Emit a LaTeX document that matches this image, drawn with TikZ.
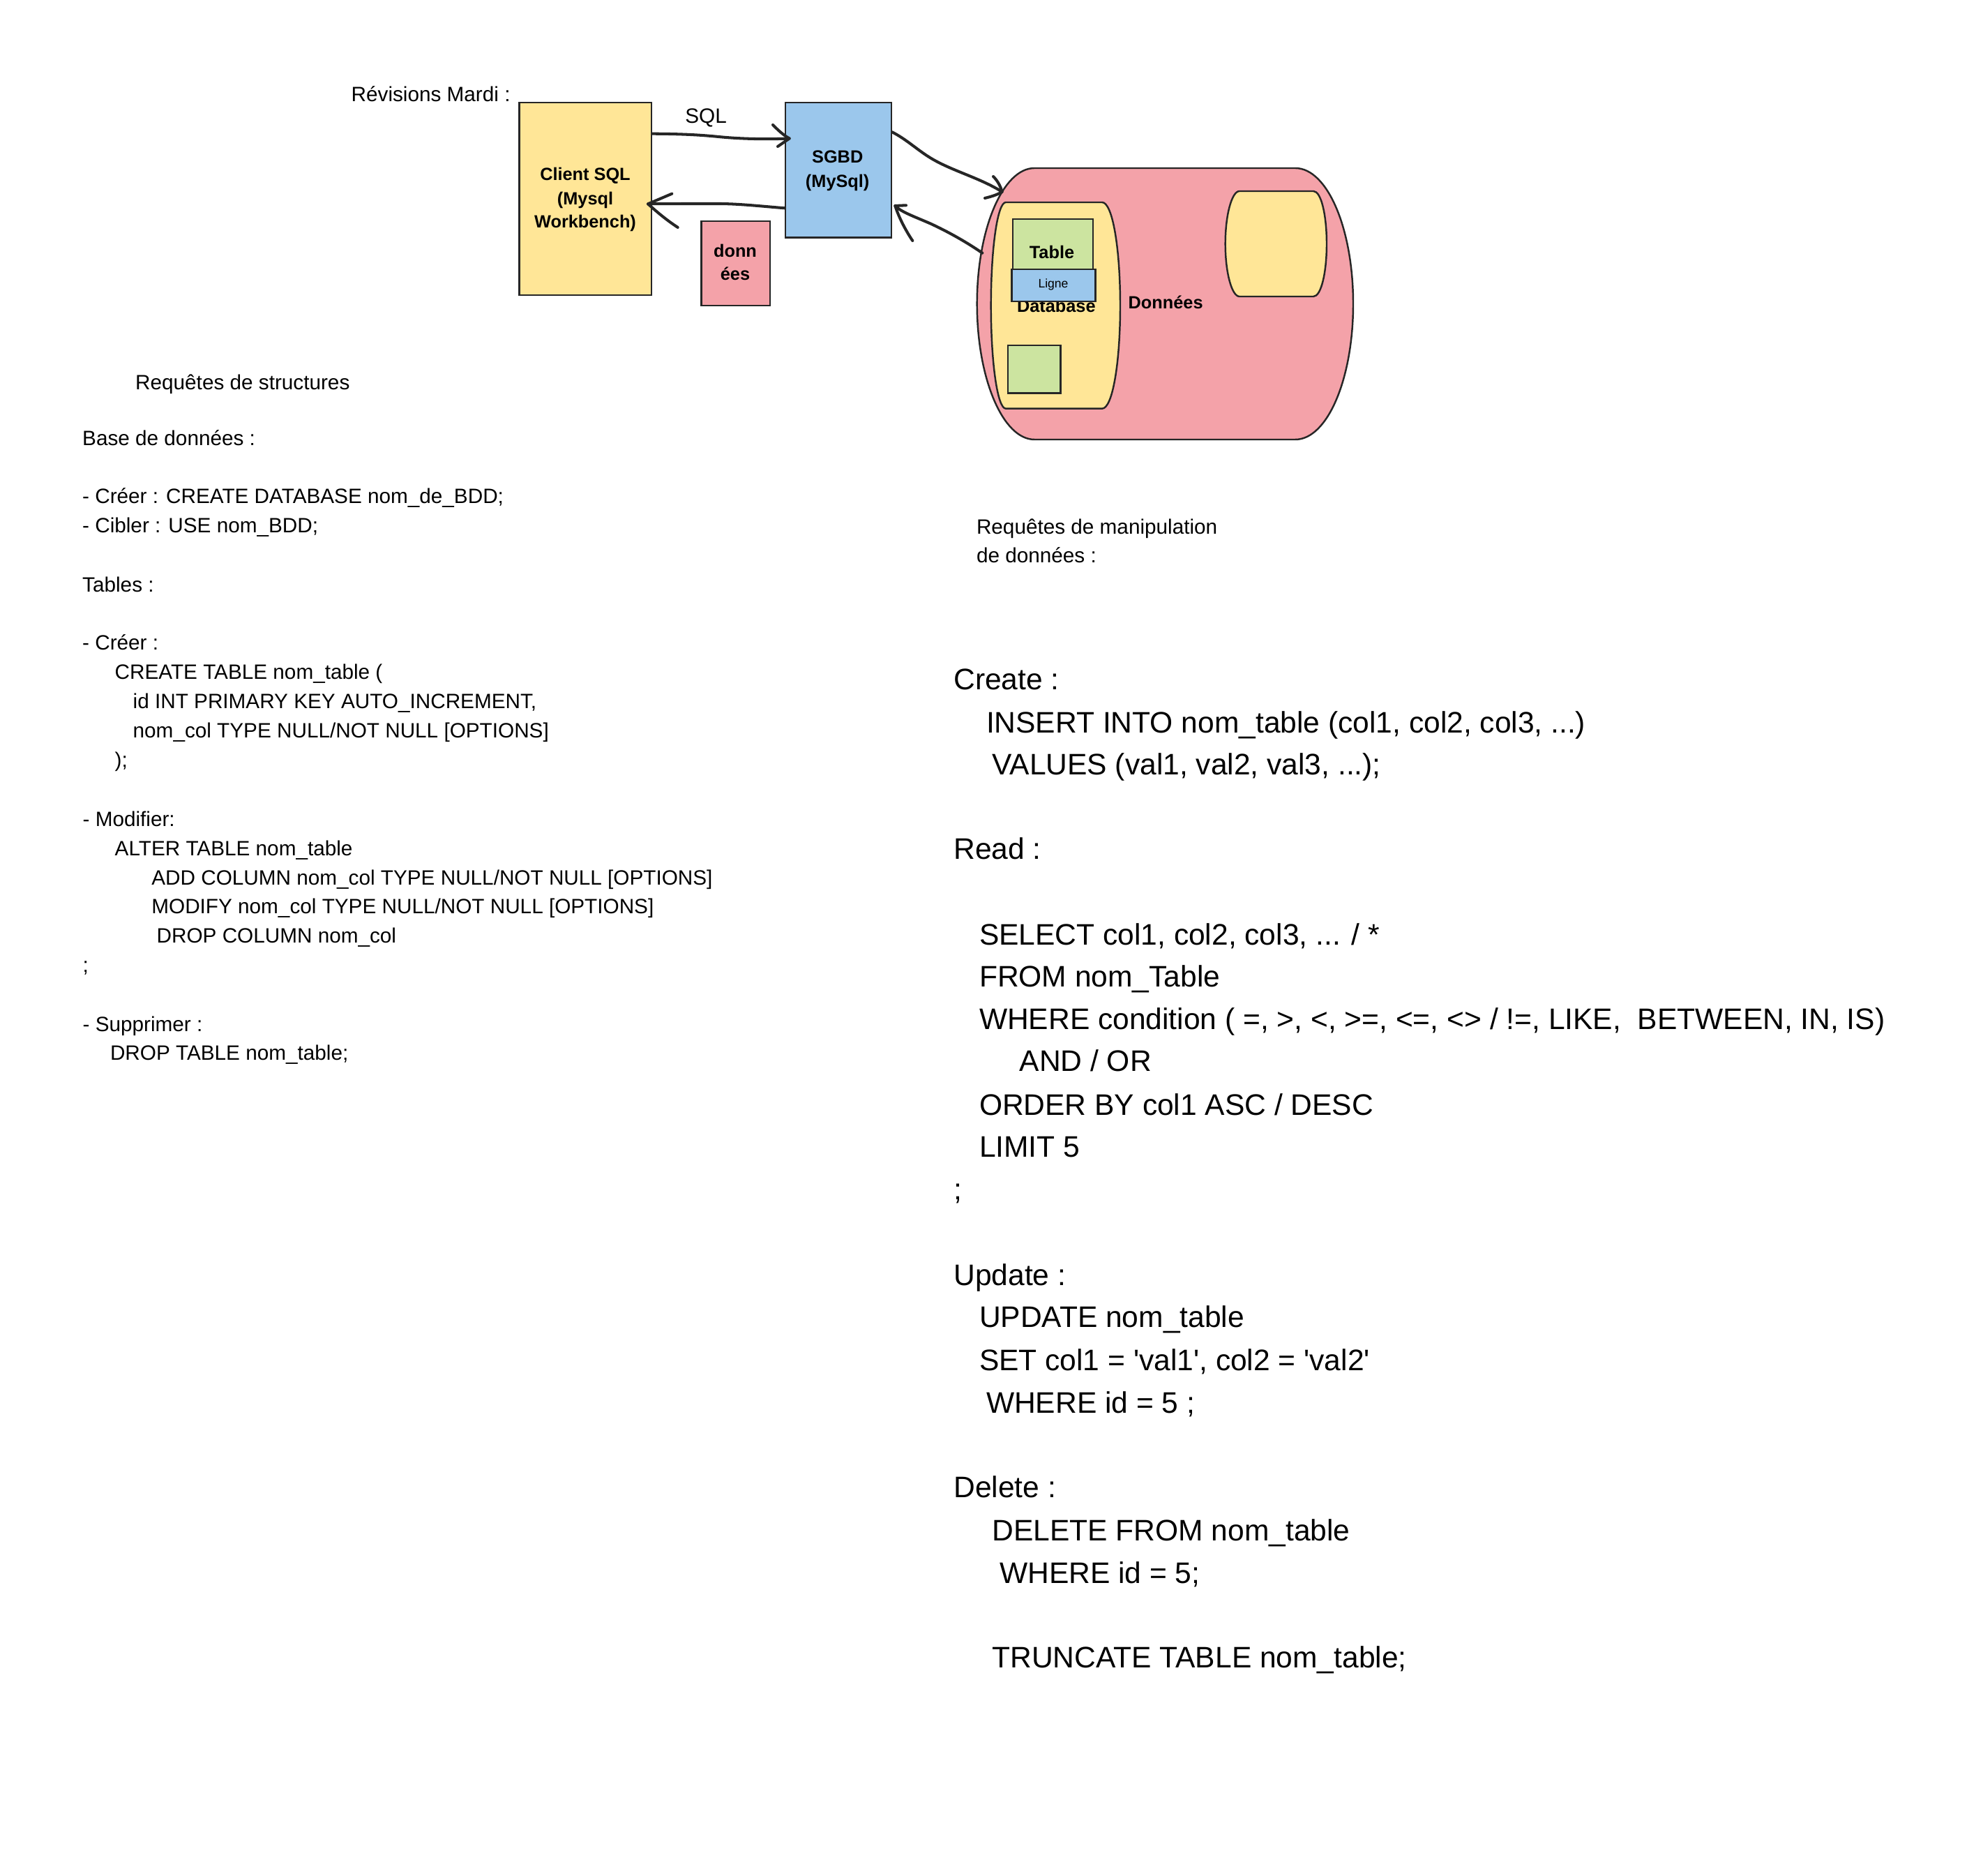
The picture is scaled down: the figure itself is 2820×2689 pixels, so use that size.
\documentclass[tikz,border=0pt]{standalone}
\usepackage{fontspec}
\newfontfamily\mainf{Liberation Sans}
\definecolor{yel}{HTML}{FFE697}
\definecolor{blu}{HTML}{9BC7EC}
\definecolor{pnk}{HTML}{F4A2A9}
\definecolor{grn}{HTML}{CCE4A0}
\definecolor{lc}{HTML}{262626}
\tikzset{
  box/.style={draw=lc, line width=0.7pt},
  rbox/.style={box, inner sep=0pt, anchor=north west},
  sm/.style={anchor=base west, inner sep=0pt, font=\mainf\fontsize{8.45}{10}\selectfont},
  big/.style={anchor=base west, inner sep=0pt, font=\mainf\fontsize{12.1}{14}\selectfont},
  lbl/.style={anchor=base, inner sep=0pt, font=\mainf\bfseries\fontsize{7.2}{8.6}\selectfont},
  tiny/.style={anchor=base, inner sep=0pt, font=\mainf\fontsize{5}{6}\selectfont},
  hand/.style={draw=lc, line width=1.15pt, line cap=round, line join=round},
}
\begin{document}
\begin{tikzpicture}[x=0.01cm, y=-0.01cm]
\useasboundingbox (0,0) rectangle (2820,2689);

% ---------- top diagram ----------
\node[sm] (rev) at (503,146) {Révisions Mardi :};
\node[rbox, fill=yel, minimum width=1.894cm, minimum height=2.76cm] (client) at (743.3,145.7) {};
\node[lbl] (c1) at (839,258.3) {Client SQL};
\node[lbl] (c2) at (839,293.3) {(Mysql};
\node[lbl] (c3) at (839,326.5) {Workbench)};
\node[sm] (sql) at (981.7,176.7) {SQL};
\node[rbox, fill=blu, minimum width=1.517cm, minimum height=1.933cm] (sgbd) at (1125,145.7) {};
\node[lbl] (s1) at (1200.7,233.3) {SGBD};
\node[lbl] (s2) at (1200.7,268.3) {(MySql)};
\node[rbox, fill=pnk, minimum width=0.984cm, minimum height=1.207cm] (don) at (1004.3,316) {};
\node[lbl] (d1) at (1054,368.3) {donn};
\node[lbl] (d2) at (1054,401.7) {ées};

% big cylinder
\draw[box, fill=pnk] (1483,241) -- (1857,241)
  .. controls (1903,241) and (1940,328) .. (1940,435.5)
  .. controls (1940,543) and (1903,630) .. (1857,630)
  -- (1483,630)
  .. controls (1438,630) and (1400.7,543) .. (1400.7,435.5)
  .. controls (1400.7,328) and (1438,241) .. (1483,241) -- cycle;
% database shape
\draw[box, fill=yel] (1442,290) -- (1580,290)
  .. controls (1595,290) and (1606,356) .. (1606,438)
  .. controls (1606,520) and (1595,585.7) .. (1580,585.7)
  -- (1442,585.7)
  .. controls (1430,585.7) and (1420.7,520) .. (1420.7,438)
  .. controls (1420.7,356) and (1430,290) .. (1442,290) -- cycle;
% right yellow shape
\draw[box, fill=yel] (1777,274) -- (1883,274)
  .. controls (1894,274) and (1902,308) .. (1902,349.5)
  .. controls (1902,391) and (1894,425) .. (1883,425)
  -- (1777,425)
  .. controls (1766,425) and (1756.7,391) .. (1756.7,349.5)
  .. controls (1756.7,308) and (1766,274) .. (1777,274) -- cycle;

\node[rbox, fill=grn, minimum width=1.15cm, minimum height=0.723cm] (table) at (1450.7,312.7) {};
\node[lbl] (tt) at (1508,370.7) {Table};
\node[lbl] (db) at (1514.3,447.5) {Database};
\node[rbox, fill=blu, minimum width=1.2cm, minimum height=0.457cm] (ligne) at (1449.3,385) {};
\node[tiny] (lt) at (1510,413) {Ligne};
\node[rbox, fill=grn, minimum width=0.75cm, minimum height=0.683cm] (table2) at (1444,494) {};
\node[lbl, anchor=base west] (dn) at (1617,442.3) {Données};

% ---------- arrows ----------
\coordinate (a1s) at (client.north east |- 0,191.7);
\coordinate (a1t) at (1131.7,198.5);
\draw[hand] (a1s) .. controls (975,192) and (1000,193) .. (1030,196)
  .. controls (1060,199) and (1095,200) .. (a1t);
\draw[hand] (1108,179) .. controls (1115,186) and (1122,193) .. (a1t) -- (1115,210);

\coordinate (a2s) at (sgbd.north west |- 0,298.3);
\coordinate (a2t) at (929,292.3);
\draw[hand] (a2s) .. controls (1095,296) and (1060,292) .. (1030,292)
  .. controls (990,292) and (960,292) .. (a2t);
\draw[hand] (963.3,277.7) -- (a2t) .. controls (942,304) and (955,315) .. (971.7,326);

\coordinate (a3s) at (1279,189.3);
\coordinate (a3t) at (1436.7,275);
\draw[hand] (a3s) .. controls (1300,200) and (1315,215) .. (1335,227)
  .. controls (1365,245) and (1405,255) .. (a3t);
\draw[hand] (1424,253) .. controls (1430,259) and (1434,266) .. (a3t)
  .. controls (1428,280) and (1420,282) .. (1412,284);

\coordinate (a4s) at (1408.3,362.7);
\coordinate (a4t) at (1283.3,295);
\draw[hand] (a4s) .. controls (1390,350) and (1365,335) .. (1335,321)
  .. controls (1310,310) and (1292,304) .. (a4t);
\draw[hand] (1299,294.3) -- (a4t) .. controls (1288,310) and (1298,330) .. (1308.3,345);

% ---------- left text ----------
\node[sm] (l1) at (193.5,558.5) {Requêtes de structures};
\node[sm] (l2) at (117.5,638.3) {Base de données :};
\node[sm] (l3) at (117.5,721.7) {- Créer : CREATE DATABASE nom\_de\_BDD;};
\node[sm] (l4) at (117.5,763.4) {- Cibler : USE nom\_BDD;};
\node[sm] (l5) at (117.5,848.3) {Tables :};
\node[sm] (l6) at (117.5,932) {- Créer :};
\node[sm] (l7) at (164,974) {CREATE TABLE nom\_table (};
\node[sm] (l8) at (190,1016) {id INT PRIMARY KEY AUTO\_INCREMENT,};
\node[sm] (l9) at (190,1058) {nom\_col TYPE NULL/NOT NULL [OPTIONS]};
\node[sm] (l10) at (164,1100) {);};
\node[sm] (l11) at (118,1185) {- Modifier:};
\node[sm] (l12) at (164,1226.7) {ALTER TABLE nom\_table};
\node[sm] (l13) at (216.7,1268.3) {ADD COLUMN nom\_col TYPE NULL/NOT NULL [OPTIONS]};
\node[sm] (l14) at (216.7,1310) {MODIFY nom\_col TYPE NULL/NOT NULL [OPTIONS]};
\node[sm] (l15) at (224,1351.7) {DROP COLUMN nom\_col};
\node[sm] (l16) at (118,1393.4) {;};
\node[sm] (l17) at (118,1478.3) {- Supprimer :};
\node[sm] (l18) at (157.3,1520) {DROP TABLE nom\_table;};

% ---------- right text ----------
\node[sm] (r0a) at (1399.3,765.7) {Requêtes de manipulation};
\node[sm] (r0b) at (1399.3,806.7) {de données :};

\node[big] (r1) at (1366.7,988.3) {Create :};
\node[big] (r2) at (1413.3,1050.5) {INSERT INTO nom\_table (col1, col2, col3, ...)};
\node[big] (r3) at (1421.7,1110.5) {VALUES (val1, val2, val3, ...);};
\node[big] (r4) at (1366.7,1232) {Read :};
\node[big] (r5) at (1403.3,1355) {SELECT col1, col2, col3, ... / *};
\node[big] (r6) at (1403.3,1414.5) {FROM nom\_Table};
\node[big] (r7) at (1403.3,1476) {WHERE condition ( =, >, <, >=, <=, <> / !=, LIKE, \ BETWEEN, IN, IS)};
\node[big] (r8) at (1461,1536) {AND / OR};
\node[big] (r9) at (1403.3,1599) {ORDER BY col1 ASC / DESC};
\node[big] (r10) at (1403.3,1658.6) {LIMIT 5};
\node[big] (r11) at (1366.7,1720) {;};
\node[big] (r12) at (1366.7,1843) {Update :};
\node[big] (r13) at (1403.3,1902.6) {UPDATE nom\_table};
\node[big] (r14) at (1403.3,1964) {SET col1 = 'val1', col2 = 'val2'};
\node[big] (r15) at (1413.3,2025.5) {WHERE id = 5 ;};
\node[big] (r16) at (1366.7,2146.7) {Delete :};
\node[big] (r17) at (1421.7,2208) {DELETE FROM nom\_table};
\node[big] (r18) at (1432.5,2269.6) {WHERE id = 5;};
\node[big] (r19) at (1421.7,2390.7) {TRUNCATE TABLE nom\_table;};
\end{tikzpicture}
\end{document}
